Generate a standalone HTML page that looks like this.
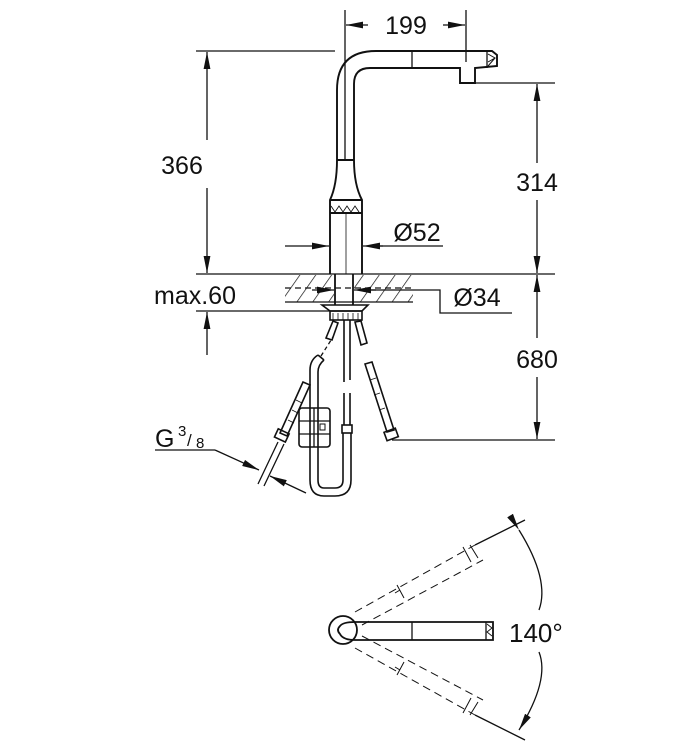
<!DOCTYPE html>
<html><head><meta charset="utf-8"><style>
html,body{margin:0;padding:0;background:#fff}
svg{display:block}
text{font-family:"Liberation Sans",sans-serif;fill:#111}
</style></head><body>
<svg width="700" height="750" viewBox="0 0 700 750" xmlns="http://www.w3.org/2000/svg">
<defs>
<marker id="a" viewBox="0 0 10 4" refX="10" refY="2" markerWidth="17" markerHeight="7" markerUnits="userSpaceOnUse" orient="auto"><path d="M0,0 L10,2 L0,4z" fill="#111"/></marker>
<pattern id="h" width="13" height="13" patternUnits="userSpaceOnUse" patternTransform="rotate(35)"><line x1="0" y1="0" x2="0" y2="13" stroke="#111" stroke-width="1.4"/></pattern>
</defs>
<g stroke="#111" stroke-width="1.3" fill="none">
<!-- 199 -->
<line x1="345" y1="10" x2="345" y2="160"/>
<line x1="466" y1="10" x2="466" y2="62"/>
<line x1="368" y1="25" x2="346" y2="25" marker-end="url(#a)"/>
<line x1="443" y1="25" x2="465" y2="25" marker-end="url(#a)"/>
<!-- 366 -->
<line x1="196" y1="51" x2="335" y2="51"/>
<line x1="207" y1="140" x2="207" y2="52" marker-end="url(#a)"/>
<line x1="207" y1="188" x2="207" y2="273" marker-end="url(#a)"/>
<!-- 314 -->
<line x1="460" y1="83" x2="555" y2="83"/>
<line x1="537" y1="163" x2="537" y2="84" marker-end="url(#a)"/>
<line x1="537" y1="200" x2="537" y2="273" marker-end="url(#a)"/>
<!-- countertop -->
<line x1="196" y1="274" x2="555" y2="274"/>
<!-- 680 -->
<line x1="537" y1="338" x2="537" y2="275" marker-end="url(#a)"/>
<line x1="537" y1="377" x2="537" y2="439" marker-end="url(#a)"/>
<line x1="392" y1="440" x2="555" y2="440"/>
<!-- max60 -->
<line x1="196" y1="311" x2="330" y2="311"/>
<line x1="207" y1="355" x2="207" y2="312" marker-end="url(#a)"/>
<g stroke-width="1.9">
<!-- faucet spout -->
<path d="M337,160 L337,90 Q337,51 376,51 L492,51 L497,55 L497,66 L475,68 L475,83 L460,83 L460,68 L370,68 Q354,68 354,84 L354,160"/>
<line x1="412" y1="51" x2="412" y2="68" stroke-width="1.3"/>
<line x1="487" y1="51" x2="487" y2="68" stroke-width="1.3"/>
<!-- body -->
<line x1="337" y1="160" x2="354" y2="160"/>
<path d="M337,160 Q337,185 330,200 L330,274 M354,160 Q354,185 362,200 L362,274"/>
<line x1="330" y1="200" x2="362" y2="200"/>
<line x1="330" y1="213" x2="362" y2="213"/>
</g>
<path d="M488,54 L495,58 L488,62 M495,58 L488,66" stroke-width="1"/>
<path d="M331,206 L335,212 L339,206 L343,212 L347,206 L351,212 L355,206 L359,212" stroke-width="0.9"/>
<line x1="346" y1="213" x2="346" y2="274" stroke-width="0.8"/>
<!-- Ø52 -->
<line x1="285" y1="246" x2="329" y2="246" marker-end="url(#a)"/>
<line x1="383" y1="246" x2="363" y2="246" marker-end="url(#a)"/>
<line x1="380" y1="246" x2="443" y2="246"/>
<!-- hatched counter -->
<rect x="285" y="275" width="128" height="27" fill="url(#h)" stroke="none"/>
<rect x="334" y="275" width="20" height="30" fill="#fff" stroke="none"/>
<line x1="285" y1="302" x2="413" y2="302"/>
<line x1="285" y1="288" x2="413" y2="288" stroke-dasharray="6,4"/>
<path d="M335,274 L335,305 M353,274 L353,305" stroke-width="1.8"/>
<!-- Ø34 -->
<line x1="312" y1="290" x2="334" y2="290" marker-end="url(#a)"/>
<line x1="376" y1="290" x2="354" y2="290" marker-end="url(#a)"/>
<path d="M365,290 L440,290 L440,313 L512,313"/>
<!-- base plate -->
<path d="M322,305 L368,305 L362,311 L330,311 Z" stroke-width="1.6"/>
<rect x="330" y="311" width="32" height="9" stroke-width="1.6"/>
<path d="M333,313 V320 M338,313 V320 M343,313 V320 M348,313 V320 M353,313 V320 M358,313 V320" stroke-width="0.8"/>
<g stroke-width="1.6">
<!-- stubs -->
<path d="M333,321 L326,338 L332,340 L338,323 Z"/>
<path d="M355,322 L361,345 L367,343 L361,321 Z"/>
<!-- center tube -->
<path d="M344,320 V382 M350,320 V380 M344,393 V425 M350,393 V425"/>
<rect x="342" y="425" width="10" height="8"/>
<path d="M343,433 V480 M351,433 V480"/>
<path d="M343,480 Q343,488 335,488 L324,488 Q318,488 318,480 M351,480 Q351,496 335,496 L324,496 Q310,496 310,480"/>
<path d="M310,480 V370 Q310,360 318,355 M318,480 V372 Q318,365 324,360"/>
<line x1="318" y1="355" x2="324" y2="360"/>
<!-- box -->
<rect x="299" y="408" width="31" height="39" rx="3"/>
<!-- left hose -->
<path d="M303,382 L280,433 L287,436 L310,385 Z"/>
<rect x="276" y="431" width="12" height="9" transform="rotate(25 282 435)"/>
<!-- right hose -->
<path d="M365,364 L387,432 L394,430 L372,362 Z"/>
<rect x="385" y="430" width="12" height="9" transform="rotate(-20 391 434)"/>
</g>
<line x1="321" y1="356" x2="333" y2="337" stroke-dasharray="4,3"/>
<line x1="314" y1="408" x2="314" y2="447"/>
<line x1="299" y1="421" x2="330" y2="421"/>
<line x1="299" y1="434" x2="330" y2="434"/>
<rect x="320" y="424" width="5" height="6" stroke-width="1"/>
<path d="M296,400 L302,403 M292,410 L298,413 M288,420 L294,423" stroke-width="0.8"/>
<path d="M278,442 L258,484 M284,444 L264,486"/>
<path d="M370,380 L376,378 M374,395 L380,393 M379,410 L385,408" stroke-width="0.8"/>
<!-- G3/8 -->
<line x1="155" y1="450" x2="215" y2="450"/>
<line x1="215" y1="450" x2="259" y2="470" marker-end="url(#a)"/>
<line x1="306" y1="493" x2="270" y2="476" marker-end="url(#a)"/>
<!-- bottom view -->
<g stroke-width="1.8">
<circle cx="343" cy="630" r="14"/>
<path d="M355,622 L493,622 L493,640 L355,640 Q343,640 340,634 Q336,630 340,626 Q343,622 355,622"/>
</g>
<line x1="412" y1="622" x2="412" y2="640"/>
<line x1="486" y1="622" x2="486" y2="640"/>
<path d="M487,624 L492,628 L487,632 L492,636" stroke-width="0.9"/>
<g stroke-dasharray="8,5" stroke-width="1">
<line x1="355" y1="612" x2="475" y2="545"/>
<line x1="362" y1="625" x2="483" y2="560"/>
<line x1="355" y1="648" x2="475" y2="715"/>
<line x1="362" y1="636" x2="483" y2="700"/>
</g>
<path d="M463,547 L471,562 M470,545 L478,558 M397,585 L404,598 M400,590 L395,593" stroke-width="1"/>
<path d="M463,713 L471,698 M470,715 L478,702 M397,675 L404,662 M400,670 L395,667" stroke-width="1"/>
<line x1="475" y1="545" x2="525" y2="520"/>
<line x1="475" y1="715" x2="525" y2="740"/>
<path d="M519,530 Q550,580 539,610" marker-start="url(#a)"/>
<path d="M539,652 Q550,680 519,730" marker-end="url(#a)"/>
</g>
<text x="406" y="34" font-size="25" text-anchor="middle">199</text>
<text x="182" y="174" font-size="25" text-anchor="middle">366</text>
<text x="537" y="191" font-size="25" text-anchor="middle">314</text>
<text x="417" y="241" font-size="25" text-anchor="middle">Ø52</text>
<text x="154" y="304" font-size="25">max.60</text>
<text x="477" y="306" font-size="25" text-anchor="middle">Ø34</text>
<text x="537" y="368" font-size="25" text-anchor="middle">680</text>
<text x="155" y="447" font-size="25">G</text>
<text x="178" y="436" font-size="15">3</text>
<text x="187" y="446" font-size="17">/</text>
<text x="196" y="448" font-size="15">8</text>
<text x="509" y="642" font-size="26">140°</text>
</svg>
</body></html>
